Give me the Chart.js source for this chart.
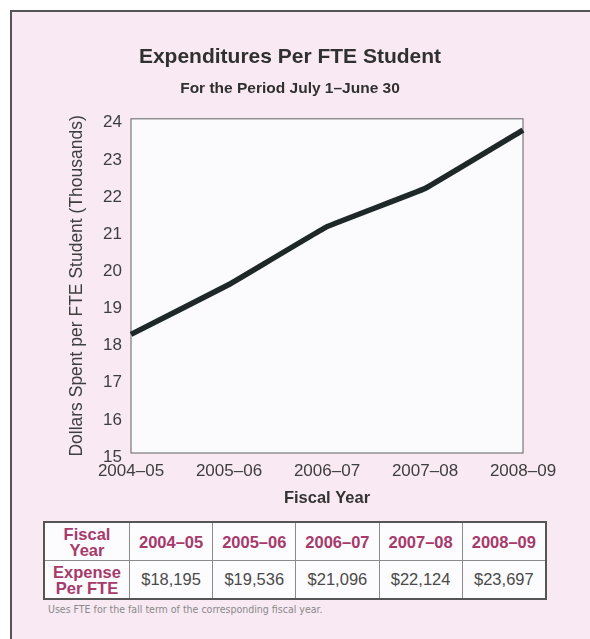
<!DOCTYPE html>
<html>
<head>
<meta charset="utf-8">
<script src="https://cdn.jsdelivr.net/npm/chart.js@4.4.1/dist/chart.umd.min.js"></script>
<style>
  html, body { margin: 0; padding: 0; background: #fff; width: 590px; height: 639px; overflow: hidden; }
  #frame {
    position: absolute; left: 10px; top: 10px; width: 600px; height: 650px;
    background: #f8e9f3; border-left: 2px solid #555; border-top: 2px solid #555;
  }
  #chart-box { position: absolute; left: 0; top: 0; width: 590px; height: 515px; }
  #fte-table {
    position: absolute; left: 43px; top: 521px; width: 504px; height: 77px;
    border-collapse: collapse; border: 2px solid #555; background: #fcfbfd;
    font-family: "Liberation Sans", Arial, sans-serif; text-align: center;
  }
  #fte-table td { border: 1px solid #8a8a8a; padding: 0; height: 37px; }
  #fte-table .head { color: #a63a6b; font-weight: bold; font-size: 16.5px; line-height: 16px; }
  #fte-table .val { color: #4a4a4a; font-size: 16.5px; }
  #note {
    position: absolute; left: 48px; top: 603px;
    font-family: "Liberation Sans Narrow", "DejaVu Sans Condensed", sans-serif;
    font-size: 10.5px; color: #8a8a8a;
  }
</style>
</head>
<body>
<div id="frame"></div>
<div id="chart-box"><canvas id="chart"></canvas></div>
<table id="fte-table">
  <tr id="row-year"><td class="head" style="width:84px">Fiscal<br>Year</td></tr>
  <tr id="row-exp"><td class="head">Expense<br>Per FTE</td></tr>
</table>
<div id="note">Uses FTE for the fall term of the corresponding fiscal year.</div>
<script>
// datos
const fiscalYears = ['2004–05', '2005–06', '2006–07', '2007–08', '2008–09'];
const expensePerFte = [18195, 19536, 21096, 22124, 23697];
const yTicks = [15, 16, 17, 18, 19, 20, 21, 22, 23, 24];

const textColor = '#3e3e3e';
const fontName = '"Liberation Sans", Arial, sans-serif';

// tabla
const rowYear = document.getElementById('row-year');
const rowExp = document.getElementById('row-exp');
fiscalYears.forEach((y, i) => {
    rowYear.innerHTML += `<td class="head">${y}</td>`;
    rowExp.innerHTML += `<td class="val">$${expensePerFte[i].toLocaleString('en-US')}</td>`;
});

// fondo y borde del área del gráfico
const plotFrame = {
    id: 'plotFrame',
    beforeDatasetsDraw(chart) {
        const { ctx, chartArea: a } = chart;
        ctx.save();
        ctx.fillStyle = '#fbfafd';
        ctx.fillRect(a.left, a.top, a.right - a.left, a.bottom - a.top);
        ctx.strokeStyle = '#7a7a7a';
        ctx.lineWidth = 1.2;
        ctx.strokeRect(a.left, a.top, a.right - a.left, a.bottom - a.top);
        ctx.restore();
    }
};

new Chart(document.getElementById('chart'), {
    type: 'line',
    data: {
        labels: fiscalYears,
        datasets: [{
            data: expensePerFte.map(v => v / 1000),
            borderColor: '#1f2828',
            borderWidth: 5.5,
            pointRadius: 0,
            tension: 0.05,
            borderCapStyle: 'butt'
        }]
    },
    options: {
        responsive: true,
        maintainAspectRatio: false,
        animation: false,
        layout: { padding: { left: 57, right: 67, top: 0, bottom: 0 } },
        plugins: {
            legend: { display: false },
            tooltip: { enabled: false },
            title: {
                display: true,
                text: 'Expenditures Per FTE Student',
                color: '#303030',
                font: { family: fontName, size: 21, weight: 'bold', lineHeight: 1.2 },
                padding: { top: 45, bottom: 0 }
            },
            subtitle: {
                display: true,
                text: 'For the Period July 1–June 30',
                color: '#303030',
                font: { family: fontName, size: 15.5, weight: 'bold', lineHeight: 1.2 },
                padding: { top: 9.5, bottom: 20.5 }
            }
        },
        scales: {
            x: {
                offset: false,
                grid: { display: false, drawTicks: false },
                border: { display: false },
                ticks: { color: textColor, font: { family: fontName, size: 17 }, padding: 8, maxRotation: 0, autoSkip: false },
                title: {
                    display: true, text: 'Fiscal Year', color: '#333',
                    font: { family: fontName, size: 16.5, weight: 'bold', lineHeight: 1.2 },
                    padding: { top: 0, bottom: 7 }
                },
                afterFit: (s) => { s.height = 62; }
            },
            y: {
                min: yTicks[0],
                max: yTicks[yTicks.length - 1],
                grid: { display: false, drawTicks: false },
                border: { display: false },
                afterBuildTicks: (s) => { s.ticks = yTicks.map(v => ({ value: v })); },
                ticks: { color: textColor, font: { family: fontName, size: 17 }, padding: 9, labelOffset: 4 },
                title: {
                    display: true, text: 'Dollars Spent per FTE Student (Thousands)', color: textColor,
                    font: { family: fontName, size: 17.5, lineHeight: 1.2 },
                    padding: { top: 10, bottom: 0 }
                },
                afterFit: (s) => { s.width = 74; }
            }
        }
    },
    plugins: [plotFrame]
});
</script>
</body>
</html>
